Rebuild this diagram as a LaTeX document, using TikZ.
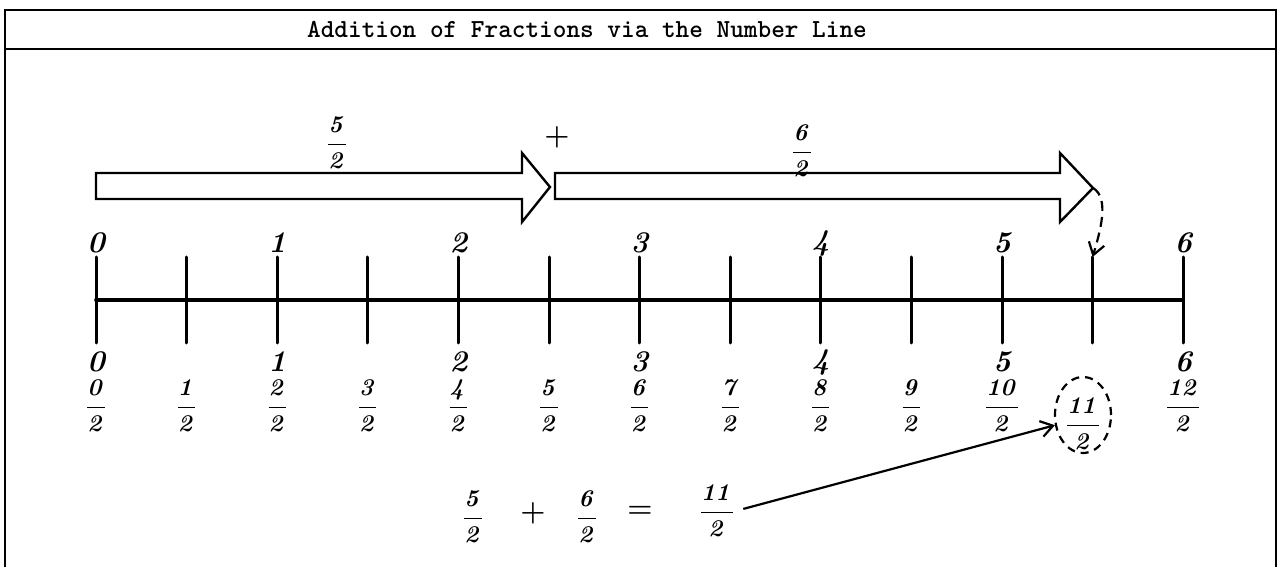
\documentclass[tikz,border=0pt]{standalone}
\usetikzlibrary{arrows.meta,shapes.geometric}
\newcommand\hfrac[2]{{\boldmath$\displaystyle\frac{\mathit{#1}}{\mathit{#2}}$}}
\tikzset{
  ink/.style={line width=1.5pt, line cap=round, line join=round},
  framestyle/.style={line width=1pt},
  blockarrow/.style={line width=1.2pt, line join=miter},
  hand/.style={font=\fontsize{15}{15}\selectfont\bfseries\itshape\boldmath, inner sep=0pt},
  fracnode/.style={font=\fontsize{13}{13}\selectfont, inner sep=0pt},
  barb/.style={-{Straight Barb[length=6pt,width=8pt,line width=1.1pt]}},
  titlestyle/.style={font=\fontsize{13}{13}\selectfont\ttfamily\bfseries, inner sep=0pt}
}
\begin{document}
\begin{tikzpicture}[x=0.5pt,y=-0.5pt]
\useasboundingbox (0,0) rectangle (1282,567);
% frame
\draw[framestyle] (5,567) -- (5,10) -- (1276,10) -- (1276,567);
\draw[framestyle] (5,49) -- (1276,49);
\node[titlestyle] (title) at (587,29) {Addition of Fractions via the Number Line};
% number line ticks
\foreach \i in {0,...,12}{
  \coordinate (tt\i) at ({96+90.6*\i},257);
  \coordinate (tb\i) at ({96+90.6*\i},343);
  \draw[ink] (tt\i) -- (tb\i);
}
\draw[ink, line width=1.8pt] (96,300) coordinate (l0) -- (1183,300) coordinate (l12);
% integer labels above and below the line
\foreach \i/\k in {0/0,1/2,2/4,3/6,4/8,5/10,6/12}{
  \node[hand] (top\i) at ({96+90.6*\k},243) {\i};
  \node[hand] (bot\i) at ({96+90.6*\k},362) {\i};
}
% fractions
\foreach \n in {0,...,10,12}{
  \node[fracnode] (f\n) at ({96+90.6*\n},406) {\hfrac{\n}{2}};
}
\node[fracnode] (f11) at (1083,424) {\hfrac{11}{2}};
\node[draw, ellipse, line width=1.1pt, dash pattern=on 4pt off 3pt,
      minimum width=28pt, minimum height=38pt, inner sep=0pt] (ell) at (1083,415) {};
% block arrows
\draw[blockarrow] (96,173) -- (522,173) -- (522,153) -- (550,187) coordinate (a1tip)
   -- (522,222) -- (522,199) -- (96,199) -- cycle;
\draw[blockarrow] (555,173) -- (1060,173) -- (1060,153) -- (1093,188) coordinate (a2tip)
   -- (1060,222) -- (1060,199) -- (555,199) -- cycle;
\node[fracnode] (lab1) at (337,143) {\hfrac{5}{2}};
\node[hand] (plus) at (557,137) {$+$};
\node[fracnode] (lab2) at (802,151) {\hfrac{6}{2}};
% dashed curved arrow
\draw[line width=1.1pt, dash pattern=on 5pt off 3pt, barb] (a2tip) .. controls (1110,198) and (1100,232) .. (tt11);
% equation
\node[fracnode] (e1) at (473,517) {\hfrac{5}{2}};
\node[hand] (e2) at (533,513) {$+$};
\node[fracnode] (e3) at (587,517) {\hfrac{6}{2}};
\node[hand] (e4) at (640,512) {$=$};
\node[fracnode] (e5) at (717,511) {\hfrac{11}{2}};
\draw[line width=1.1pt, barb, shorten <=4pt] (e5.east) -- (ell.200);
\end{tikzpicture}
\end{document}
